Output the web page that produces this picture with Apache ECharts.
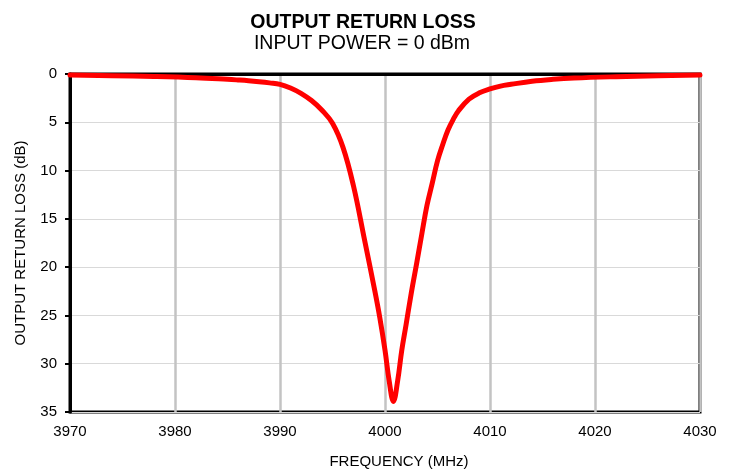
<!DOCTYPE html>
<html><head><meta charset="utf-8">
<script src="https://cdn.jsdelivr.net/npm/echarts@6/dist/echarts.min.js"></script>
<style>html,body{margin:0;padding:0;background:#fff}#c{width:734px;height:472px}</style>
</head><body><div id="c"></div>
<script>
const titleText = 'OUTPUT RETURN LOSS';
const subtitleText = 'INPUT POWER = 0 dBm';
const freqMHz = [3970,3974,3978,3982,3985,3986,3987,3988,3989,3990,3991,3992,3993,3994,3995,3996,3997,3998,3999,3999.5,4000,4000.4,4000.8,4001.2,4001.6,4002,4002.5,4003,4003.5,4004,4004.5,4005,4005.5,4006,4006.5,4007,4008,4009,4010,4011,4012,4014,4016,4018,4022,4026,4030];
const returnLoss = [0.1,0.17,0.25,0.38,0.55,0.62,0.7,0.8,0.92,1.07,1.45,2.0,2.75,3.75,5.1,7.6,11.6,16.9,22.3,25.2,28.6,31.8,33.9,31.8,28.6,26.0,22.7,19.7,16.6,13.6,11.3,9.0,7.3,5.8,4.7,3.8,2.6,1.95,1.55,1.25,1.07,0.75,0.55,0.42,0.28,0.18,0.1];
const xTicks = [3970,3980,3990,4000,4010,4020,4030];
const yTicks = [0,5,10,15,20,25,30,35];

const FONT = 'Liberation Sans, Arial, sans-serif';
const chart = echarts.init(document.getElementById('c'), null, {renderer:'canvas'});
chart.setOption({
  animation:false,
  backgroundColor:'#fff',
  graphic:[
    {type:'text', x:363, y:23, style:{text:titleText, font:'bold 19.5px ' + FONT, fill:'#000', textAlign:'center', textVerticalAlign:'middle'}},
    {type:'text', x:362, y:44, style:{text:subtitleText, font:'19.5px ' + FONT, fill:'#000', textAlign:'center', textVerticalAlign:'middle'}}
  ],
  grid:{left:70, right:34, top:74, bottom:60, show:true, borderColor:'#000', borderWidth:3, backgroundColor:'transparent', containLabel:false, outerBoundsMode:'none'},
  xAxis:{
    type:'value', min:xTicks[0], max:xTicks[xTicks.length-1], interval:10,
    name:'FREQUENCY (MHz)', nameLocation:'middle', nameGap:42,
    nameTextStyle:{fontFamily:FONT, fontSize:15, color:'#000', padding:[0,0,0,28]},
    axisLine:{lineStyle:{color:'#000', width:3}},
    axisTick:{show:false},
    axisLabel:{fontFamily:FONT, fontSize:15, color:'#000', margin:12, formatter:(v)=>String(v)},
    splitLine:{show:true, lineStyle:{color:'#c3c3c3', width:2.5}}
  },
  yAxis:{
    type:'value', inverse:true, min:yTicks[0], max:yTicks[yTicks.length-1], interval:5,
    name:'OUTPUT RETURN LOSS (dB)', nameLocation:'middle', nameGap:42, nameRotate:90,
    nameTextStyle:{fontFamily:FONT, fontSize:15, color:'#000'},
    axisLine:{lineStyle:{color:'#000', width:3}},
    axisTick:{show:true, length:5, lineStyle:{color:'#000', width:2}},
    axisLabel:{fontFamily:FONT, fontSize:15, color:'#000', margin:13, formatter:(v)=>String(v)},
    splitLine:{show:true, lineStyle:{color:'#d9d9d9', width:1}}
  },
  series:[{
    type:'line', data:freqMHz.map((f,i)=>[f,returnLoss[i]]),
    smooth:0.4, showSymbol:false, symbol:'none',
    lineStyle:{color:'#ff0000', width:5, cap:'round', join:'round'},
    z:10
  }]
});
</script></body></html>
